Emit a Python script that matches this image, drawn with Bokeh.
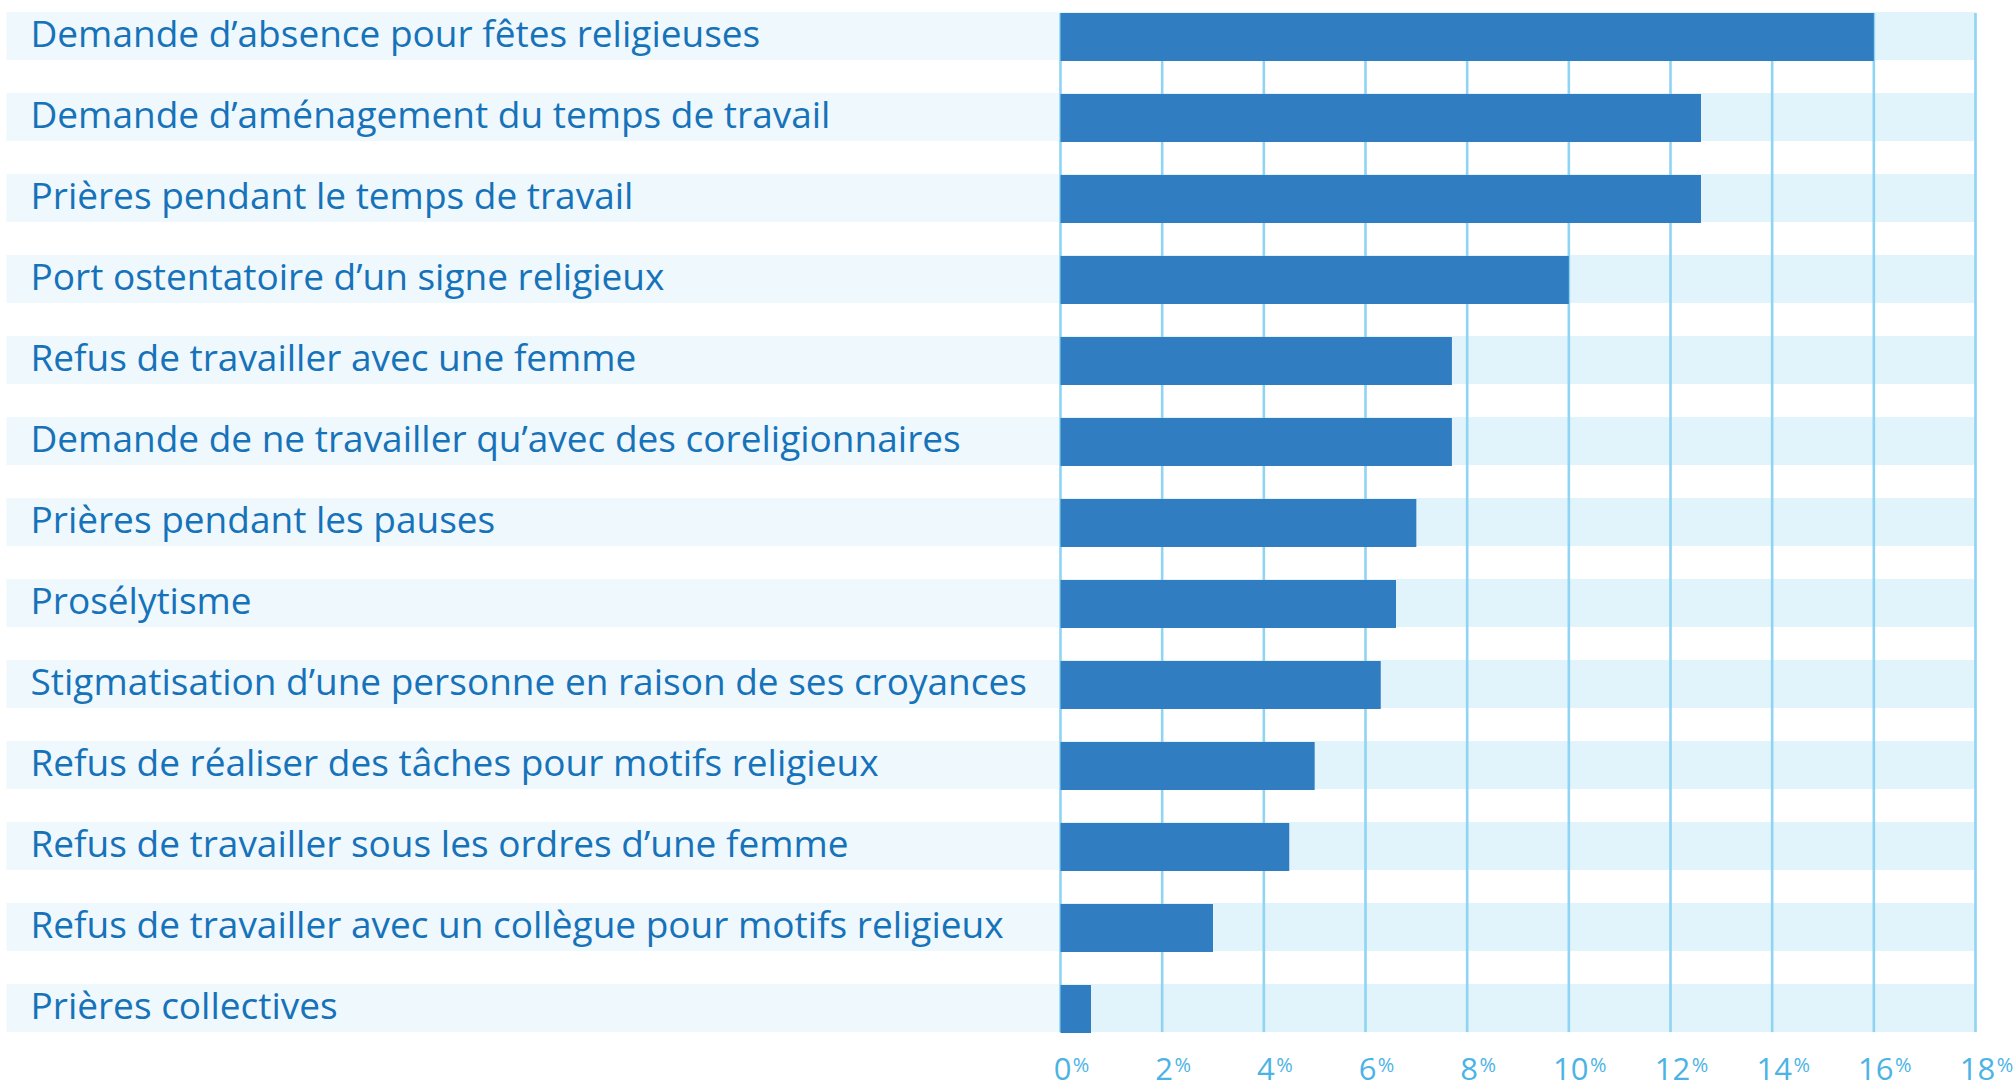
import numpy as np
from bokeh.plotting import figure
from bokeh.models import Range1d, ColumnDataSource
from bokeh.core.properties import value
from bokeh.embed import file_html
from bokeh.resources import INLINE

categories = [
    "Demande d’absence pour fêtes religieuses",
    "Demande d’aménagement du temps de travail",
    "Prières pendant le temps de travail",
    "Port ostentatoire d’un signe religieux",
    "Refus de travailler avec une femme",
    "Demande de ne travailler qu’avec des coreligionnaires",
    "Prières pendant les pauses",
    "Prosélytisme",
    "Stigmatisation d’une personne en raison de ses croyances",
    "Refus de réaliser des tâches pour motifs religieux",
    "Refus de travailler sous les ordres d’une femme",
    "Refus de travailler avec un collègue pour motifs religieux",
    "Prières collectives",
]
values = [16.0, 12.6, 12.6, 10.0, 7.7, 7.7, 7.0, 6.6, 6.3, 5.0, 4.5, 3.0, 0.6]
tick_values = [0, 2, 4, 6, 8, 10, 12, 14, 16, 18]
tick_labels = ["0", "2", "4", "6", "8", "10", "12", "14", "16", "18"]
x_max = 18

W, H = 2015, 1089
# pixel geometry (canvas coordinates)
x0_px = 1060.0          # 0%
px_per_unit = 915.0 / 18
row0_px = 35.5          # center of first row
row_pitch = 81.0
band_h = 48.0 / row_pitch

x_start = -x0_px / px_per_unit
x_end = (W - x0_px) / px_per_unit
y_top = -row0_px / row_pitch
y_bottom = (H - row0_px) / row_pitch

p = figure(width=W, height=H, output_backend="svg", toolbar_location=None,
           x_range=Range1d(x_start, x_end), y_range=Range1d(y_bottom, y_top),
           min_border=0, outline_line_color=None, background_fill_color="white",
           border_fill_color="white")
p.axis.visible = False
p.grid.visible = False

n = len(categories)
ys = np.arange(n)
band_left = x_start + 6 / px_per_unit

# label band (left) and value band (right)
p.hbar(y=ys, left=band_left, right=0, height=band_h, fill_color="#eff8fd", line_color=None)
p.hbar(y=ys, left=0, right=x_max, height=band_h, fill_color="#e1f3fb", line_color=None)

# vertical grid lines
p.segment(x0=tick_values, x1=tick_values, y0=-band_h / 2 + 0.012, y1=n - 1 + band_h / 2,
          line_color="#8fd4f3", line_width=2.6)

# bars
p.hbar(y=ys + 0.012, left=0, right=values, height=band_h, fill_color="#307dc1", line_color=None)

# category labels
lab_fs = 37
lab_src = ColumnDataSource(dict(x=[x_start] * n, y=ys + (11.0 - 0.38 * lab_fs) / row_pitch, t=categories))
p.text(x="x", y="y", text="t", source=lab_src, x_offset=30,
       text_font=value("Open Sans"), text_font_size=f"{lab_fs}px", text_color="#1672b9",
       text_baseline="alphabetic", text_align="left")

# tick labels
tick_fs = 31
pct_fs = 20
tick_y = (1080 - 0.38 * tick_fs - row0_px) / row_pitch
pct_y = (1072 - 0.38 * pct_fs - row0_px) / row_pitch
digit_w = 0.572 * tick_fs
p.text(x=[v + 2 / px_per_unit for v in tick_values], y=[tick_y] * len(tick_values),
       text=tick_labels, text_font=value("Open Sans"), text_font_size=f"{tick_fs}px",
       text_color="#4cb3e5", text_baseline="alphabetic", text_align="center")
pct_x = [v + (2 + len(t) * digit_w / 2 + 1.5) / px_per_unit for v, t in zip(tick_values, tick_labels)]
p.text(x=pct_x, y=[pct_y] * len(tick_values), text=["%"] * len(tick_values),
       text_font=value("Open Sans"), text_font_size=f"{pct_fs}px", text_color="#4cb3e5",
       text_baseline="alphabetic", text_align="left")

open("out.html", "w").write(file_html(p, INLINE))
